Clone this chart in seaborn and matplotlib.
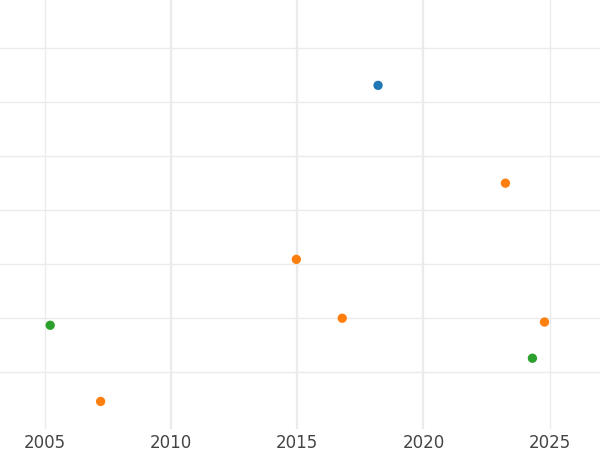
import matplotlib
matplotlib.use("Agg")
import matplotlib.pyplot as plt
import seaborn as sns
import pandas as pd

years = [2018.2, 2023.25, 2014.96, 2016.78, 2024.8, 2005.2, 2024.32, 2007.2]
values = [6.31, 4.5, 3.09, 2.0, 1.93, 1.87, 1.26, 0.46]
groups = ["a", "b", "b", "b", "b", "c", "c", "b"]
palette = {"a": "#1f77b4", "b": "#ff7f0e", "c": "#2ca02c"}

df = pd.DataFrame({"year": years, "value": values, "group": groups})

sns.set_style("white")
fig = plt.figure(figsize=(6, 4.5), dpi=100)
ax = fig.add_axes([0, 21 / 450, 1, 429 / 450])
sns.scatterplot(data=df, x="year", y="value", hue="group", palette=palette,
                s=45, edgecolor="none", legend=False, ax=ax, zorder=3)

ax.set_xlim(2003.21, 2027.0)
ax.set_ylim(-0.05, 7.89)
ax.set_xticks([2005, 2010, 2015, 2020, 2025])
ax.set_yticks(range(1, 8))
ax.set_yticklabels([])
ax.tick_params(axis="both", length=0, labelsize=12, labelcolor="#444444")
ax.grid(True, color="#ebebeb", lw=1)
for i, gl in enumerate(ax.xaxis.get_gridlines()):
    if i in (1, 2, 3):
        gl.set_linewidth(1.6)
ax.set_axisbelow(True)
ax.set_xlabel("")
ax.set_ylabel("")
for s in ax.spines.values():
    s.set_visible(False)

fig.savefig("out.png", dpi=100)
